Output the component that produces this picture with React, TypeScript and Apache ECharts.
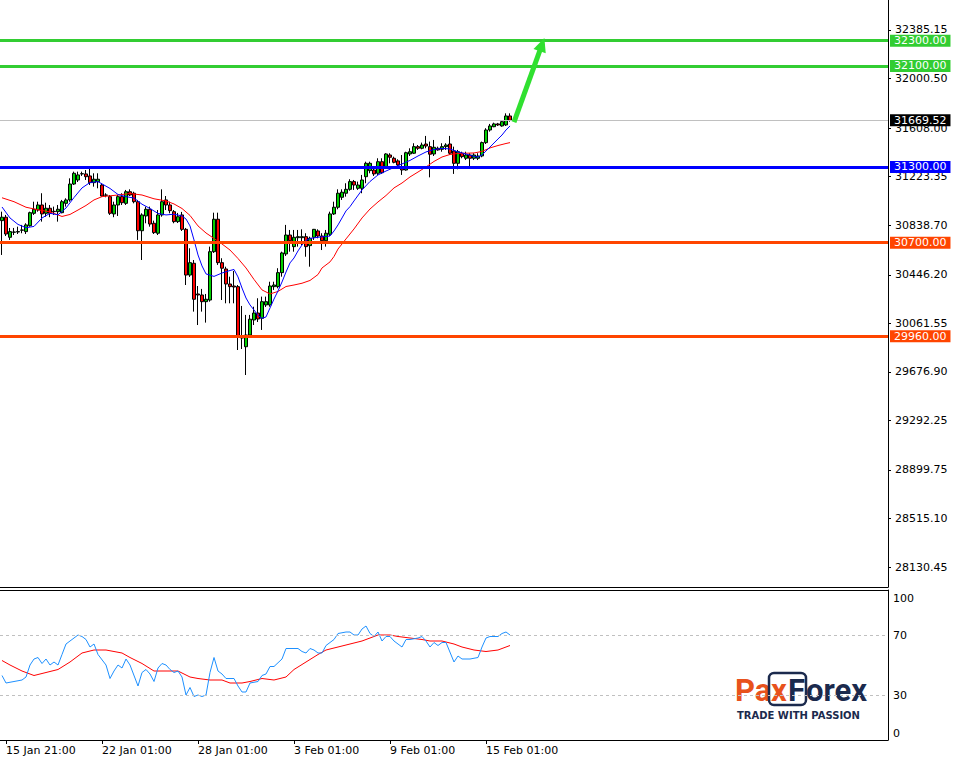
import React, { useEffect, useRef } from 'react';
import * as echarts from 'echarts';

// ---------- data ----------
const SLOTS = 222; // visible bar slots across the price pane (incl. empty right margin)

const opens = [30875,30902,30743,30783,30785,30799,30788,30835,30933,30959,30999,30933,30973,30946,30946,30938,31012,31039,31165,31197,31245,31245,31229,31176,31184,31157,31078,31065,30928,30999,31065,31012,31104,31092,31025,30795,30912,30965,30854,30775,30920,31039,30999,30946,30867,30920,30806,30444,30537,30294,30286,30233,30246,30629,30886,30542,30492,30373,30357,30352,29961,29876,29969,30088,30143,30101,30207,30207,30352,30352,30463,30611,30761,30669,30740,30740,30748,30677,30743,30793,30753,30716,30767,30928,30981,31060,31092,31123,31184,31131,31131,31223,31271,31276,31250,31342,31302,31395,31369,31348,31292,31276,31403,31409,31461,31448,31482,31461,31403,31448,31440,31461,31482,31427,31329,31409,31369,31395,31369,31369,31387,31493,31593,31619,31641,31625,31633,31704];
const highs = [30946,30920,30817,30817,30827,30841,30854,30946,31025,31025,31092,31017,30999,30986,30999,31039,31052,31210,31263,31263,31263,31276,31302,31250,31250,31171,31092,31078,31025,31078,31092,31118,31123,31104,31039,30933,30986,30986,30875,30959,31123,31070,31025,30959,30936,30944,30817,30656,30563,30357,30334,30294,30669,30938,30938,30577,30510,30431,30476,30365,30199,30128,30128,30193,30260,30273,30273,30391,30391,30498,30629,30841,30801,30801,30801,30806,30775,30748,30809,30806,30775,30801,30946,31025,31123,31123,31171,31203,31197,31184,31237,31342,31342,31290,31369,31369,31409,31409,31382,31361,31395,31421,31448,31488,31474,31493,31546,31501,31514,31461,31488,31488,31546,31461,31435,31421,31421,31409,31409,31409,31501,31607,31641,31651,31649,31672,31725,31725];
const lows = [30603,30753,30722,30761,30769,30775,30769,30827,30920,30946,30867,30906,30902,30920,30867,30933,30986,31025,31157,31181,31229,31197,31157,31144,31131,31065,31060,30920,30902,30912,30999,30999,31070,31012,30722,30563,30854,30827,30769,30761,30906,30959,30933,30854,30856,30793,30365,30429,30154,30048,30154,30067,30233,30619,30524,30246,30220,30220,30220,29850,29858,29652,29961,30048,30072,30009,30191,30193,30326,30339,30431,30595,30629,30629,30669,30682,30589,30510,30722,30735,30642,30669,30753,30920,30965,31039,31065,31112,31118,31118,31092,31171,31250,31229,31237,31245,31290,31329,31329,31302,31237,31271,31387,31403,31435,31440,31448,31218,31387,31429,31421,31435,31395,31245,31282,31369,31355,31290,31355,31355,31377,31482,31580,31615,31625,31619,31625,31659];
const closes = [30902,30769,30788,30785,30788,30801,30841,30938,30965,30999,30928,30973,30933,30949,30965,31025,31039,31165,31250,31237,31247,31223,31176,31203,31203,31070,31076,30933,30999,31065,31017,31104,31078,31025,30795,30920,30965,30848,30780,30920,31025,30999,30954,30867,30906,30806,30444,30542,30252,30286,30233,30252,30629,30886,30542,30498,30373,30352,30349,29961,29945,29969,30094,30143,30096,30233,30233,30357,30365,30463,30619,30761,30716,30743,30748,30748,30669,30735,30806,30753,30716,30775,30928,30981,31092,31100,31123,31184,31157,31157,31197,31329,31329,31245,31342,31255,31403,31377,31337,31316,31276,31413,31421,31461,31448,31474,31466,31401,31456,31435,31461,31474,31409,31329,31421,31382,31395,31369,31395,31387,31493,31593,31625,31641,31633,31659,31704,31669.52];

// Blue (fast) and red (slow) moving averages: [bar, price]
const maFast = [[0,30983],[2,30896],[4,30845],[6,30819],[8,30829],[10,30896],[12,30933],[14,30921],[16,30975],[18,31058],[20,31134],[22,31177],[24,31184],[27,31130],[29,31082],[31,31065],[33,31054],[35,31005],[37,30971],[39,30932],[41,30920],[43,30926],[45,30912],[46,30888],[47,30833],[48,30722],[49,30603],[50,30516],[51,30453],[53,30433],[55,30460],[57,30480],[58,30488],[59,30429],[60,30341],[61,30262],[62,30207],[63,30167],[64,30124],[65,30101],[66,30112],[67,30183],[68,30254],[69,30318],[70,30389],[71,30468],[72,30540],[73,30579],[74,30635],[75,30682],[76,30718],[77,30734],[79,30743],[82,30753],[83,30793],[84,30841],[85,30896],[86,30952],[87,30986],[88,31031],[90,31118],[92,31185],[94,31237],[96,31268],[98,31296],[100,31324],[102,31352],[104,31387],[106,31419],[108,31439],[110,31447],[112,31443],[114,31419],[116,31403],[118,31383],[119,31379],[120,31395],[121,31427],[122,31458],[123,31490],[124,31522],[125,31553],[126,31593],[127,31625]];
const maSlow = [[0,31056],[3,31025],[6,30981],[9,30961],[12,30944],[15,30908],[17,30924],[19,30959],[21,30995],[23,31039],[25,31065],[29,31078],[32,31090],[35,31078],[38,31048],[41,31031],[43,31007],[45,30971],[47,30916],[49,30833],[51,30777],[53,30734],[55,30690],[57,30642],[59,30575],[61,30500],[63,30409],[65,30326],[67,30294],[69,30314],[71,30353],[73,30365],[75,30379],[77,30401],[79,30448],[80,30500],[82,30548],[83,30591],[84,30650],[86,30730],[88,30809],[90,30896],[92,30967],[94,31023],[96,31074],[98,31134],[100,31173],[102,31221],[104,31260],[106,31300],[108,31344],[110,31379],[112,31399],[114,31407],[116,31409],[118,31411],[120,31423],[122,31451],[124,31470],[126,31486],[127,31493]];

// RSI and its signal line: [bar, value]
const rsiMain = [[0,43],[1,38],[3,39],[5,40],[6,42],[7,50],[8,54],[9,55],[10,51],[11,54],[12,50],[13,52],[14,50],[15,57],[16,64],[17,66],[19,70],[20,69],[21,67],[22,62],[23,64],[24,57],[26,50],[27,41],[28,46],[29,50],[30,48],[31,54],[32,50],[34,36],[35,45],[36,47],[37,44],[38,39],[39,48],[40,51],[41,50],[42,47],[43,45],[44,46],[45,42],[46,30],[47,35],[48,29],[49,30],[50,29],[51,30],[52,45],[53,55],[54,46],[55,44],[56,41],[58,41],[59,36],[60,32],[61,32],[62,38],[64,39],[65,43],[66,44],[67,49],[68,49],[70,54],[71,61],[72,61],[74,61],[75,59],[76,58],[77,61],[78,60],[79,58],[80,58],[81,63],[83,67],[84,71],[86,72],[87,72],[88,70],[89,70],[90,74],[91,76],[92,71],[93,69],[94,72],[95,66],[96,69],[97,69],[98,66],[100,62],[101,67],[102,67],[104,68],[105,69],[106,66],[107,62],[108,65],[109,63],[110,65],[111,65],[113,52],[114,56],[115,54],[117,54],[119,55],[120,62],[121,68],[122,69],[124,69],[125,71],[126,72],[127,70]];
const rsiSignal = [[0,53],[2,50],[5,46],[8,43],[11,45],[14,47],[17,52],[20,58],[23,60],[26,60],[30,58],[32,55],[35,51],[38,46],[40,46],[44,46],[47,42],[49,41],[52,40],[55,40],[57,38],[60,38],[62,39],[65,41],[68,40],[71,42],[73,47],[76,52],[79,57],[81,60],[84,62],[87,64],[90,66],[92,68],[94,70],[97,70],[99,69],[102,68],[105,67],[107,66],[110,66],[113,64],[115,62],[118,60],[121,59],[124,60],[127,63]];
const rsiLevels = [70, 30];

const priceTicks = [32385.15, 32000.50, 31608.00, 31223.35, 30838.70, 30446.20, 30061.55, 29676.90, 29292.25, 28899.75, 28515.10, 28130.45];
const rsiTicks = [0, 30, 70, 100];
const timeLabels = ['15 Jan 21:00', '22 Jan 01:00', '28 Jan 01:00', '3 Feb 01:00', '9 Feb 01:00', '15 Feb 01:00'];
const timeLabelBars = [1, 25, 49, 73, 97, 121];

const levelValues = [32300, 32100, 31300, 30700, 29960];
const currentPrice = closes[closes.length - 1];
const arrowFrom = [128, 31656];
const arrowTo = [135, 32270];

// ---------- styles ----------
const FONT = 'DejaVu Sans';
const levelColors = ['#32cd32', '#32cd32', '#0000ff', '#ff4500', '#ff4500'];
const ORANGE = '#e8521c';
const NAVY = '#1b2a4d';

export default function App() {
  const ref = useRef<HTMLDivElement>(null);

  useEffect(() => {
    if (!ref.current) return;
    const chart = echarts.init(ref.current, undefined, { renderer: 'svg' });

    const categories = Array.from({ length: SLOTS }, (_, i) => String(i));
    const candleData = opens.map((o, i) => [o, closes[i], lows[i], highs[i]]);
    const isLabelBar = (i: number) => timeLabelBars.indexOf(i) >= 0;
    const axisLine = { show: true, onZero: false, lineStyle: { color: '#000', width: 1 } };

    const option: any = {
      animation: false,
      backgroundColor: '#ffffff',
      grid: [
        { left: 0, top: 0, width: 888, height: 587 },
        { left: 0, top: 590, width: 888, height: 150 },
      ],
      xAxis: [
        {
          type: 'category', gridIndex: 0, data: categories, boundaryGap: true,
          axisLine, axisTick: { show: false }, axisLabel: { show: false }, splitLine: { show: false },
        },
        {
          type: 'category', gridIndex: 1, data: categories, boundaryGap: true, position: 'bottom',
          axisLine,
          axisTick: { show: true, alignWithLabel: true, interval: (i: number) => isLabelBar(i), length: 4, lineStyle: { color: '#000' } },
          axisLabel: {
            interval: (i: number) => isLabelBar(i),
            formatter: (v: string) => timeLabels[timeLabelBars.indexOf(Number(v))] || '',
            align: 'left', margin: 5, fontFamily: FONT, fontSize: 11, color: '#000',
          },
          splitLine: { show: false },
        },
        {
          type: 'category', gridIndex: 1, data: categories, boundaryGap: true, position: 'top',
          axisLine, axisTick: { show: false }, axisLabel: { show: false }, splitLine: { show: false },
        },
      ],
      yAxis: [
        {
          type: 'value', gridIndex: 0, position: 'right', min: 27972.6, max: 32622.8,
          axisLine,
          axisTick: { show: true, length: 3, customValues: priceTicks, lineStyle: { color: '#000' } },
          axisLabel: { customValues: priceTicks, formatter: (v: number) => v.toFixed(2), margin: 7, fontFamily: FONT, fontSize: 11, color: '#000' },
          splitLine: { show: false },
        },
        {
          type: 'value', gridIndex: 1, position: 'right', min: 0, max: 100,
          axisLine,
          axisTick: { show: false },
          axisLabel: {
            customValues: rsiTicks,
            formatter: (v: number) => (v === 100 ? '{t|100}' : v === 0 ? '{b|0}' : String(v)),
            rich: {
              t: { padding: [16, 0, 0, 0], fontFamily: FONT, fontSize: 11, color: '#000' },
              b: { padding: [0, 0, 14, 0], fontFamily: FONT, fontSize: 11, color: '#000' },
            },
            margin: 5, fontFamily: FONT, fontSize: 11, color: '#000',
          },
          splitLine: { show: false },
        },
      ],
      series: [
        {
          type: 'candlestick', xAxisIndex: 0, yAxisIndex: 0, data: candleData, barWidth: 3, silent: true,
          itemStyle: { color: '#00d000', color0: '#ff0000', borderColor: '#000', borderColor0: '#000', borderWidth: 1 },
          markLine: {
            silent: true, symbol: 'none',
            label: {
              show: true, position: 'end', distance: 2, color: '#fff', fontFamily: FONT, fontSize: 11,
              padding: [1, 4, 0, 4], formatter: (p: any) => Number(p.value).toFixed(2),
            },
            data: [
              { yAxis: currentPrice, lineStyle: { color: '#c0c0c0', width: 1, type: 'solid' }, label: { backgroundColor: '#000' } },
              ...levelValues.map((v, i) => ({
                yAxis: v,
                lineStyle: { color: levelColors[i], width: 3, type: 'solid' },
                label: { backgroundColor: levelColors[i] },
              })),
            ],
          },
        },
        {
          type: 'line', xAxisIndex: 0, yAxisIndex: 0, data: maSlow, showSymbol: false, symbol: 'none', silent: true,
          lineStyle: { color: '#ff0000', width: 1 },
          markLine: {
            silent: true,
            symbol: ['none', 'triangle'], symbolSize: [13, 14],
            label: { show: false },
            lineStyle: { color: '#30e030', width: 5, type: 'solid' },
            data: [[{ coord: arrowFrom }, { coord: arrowTo }]],
          },
        },
        {
          type: 'line', xAxisIndex: 0, yAxisIndex: 0, data: maFast, showSymbol: false, symbol: 'none', silent: true,
          lineStyle: { color: '#0000ff', width: 1 },
        },
        {
          type: 'line', xAxisIndex: 1, yAxisIndex: 1, data: rsiSignal, showSymbol: false, symbol: 'none', silent: true,
          lineStyle: { color: '#ff0000', width: 1 },
          markLine: {
            silent: true, symbol: 'none', label: { show: false },
            lineStyle: { color: '#c0c0c0', width: 1, type: [3, 3] },
            data: rsiLevels.map((v) => ({ yAxis: v })),
          },
        },
        {
          type: 'line', xAxisIndex: 1, yAxisIndex: 1, data: rsiMain, showSymbol: false, symbol: 'none', silent: true,
          lineStyle: { color: '#1e90ff', width: 1 },
        },
      ],
      graphic: [
        {
          type: 'group', silent: true, z: 50,
          children: [
            { type: 'text', x: 735, y: 690, style: { text: 'Pa', fill: ORANGE, font: 'bold 31px Roboto', verticalAlign: 'middle' } },
            { type: 'rect', shape: { x: 769, y: 673, width: 37, height: 32, r: 5 }, style: { fill: 'none', stroke: NAVY, lineWidth: 2.5 } },
            { type: 'text', x: 771, y: 690, style: { text: 'x', fill: ORANGE, font: 'bold 31px Roboto', verticalAlign: 'middle' } },
            { type: 'text', x: 788, y: 690, style: { text: 'F', fill: NAVY, font: 'bold 31px Roboto', verticalAlign: 'middle' } },
            { type: 'text', x: 806, y: 690, style: { text: 'orex', fill: NAVY, font: 'bold 31px Roboto', verticalAlign: 'middle' } },
            { type: 'text', x: 737, y: 715, style: { text: 'TRADE WITH PASSION', fill: NAVY, font: 'bold 10px "DejaVu Sans"', verticalAlign: 'middle' } },
          ],
        },
      ],
    };

    chart.setOption(option);
    return () => chart.dispose();
  }, []);

  return <div ref={ref} style={{ position: 'fixed', left: 0, top: 0, width: 960, height: 759, background: '#fff' }} />;
}
